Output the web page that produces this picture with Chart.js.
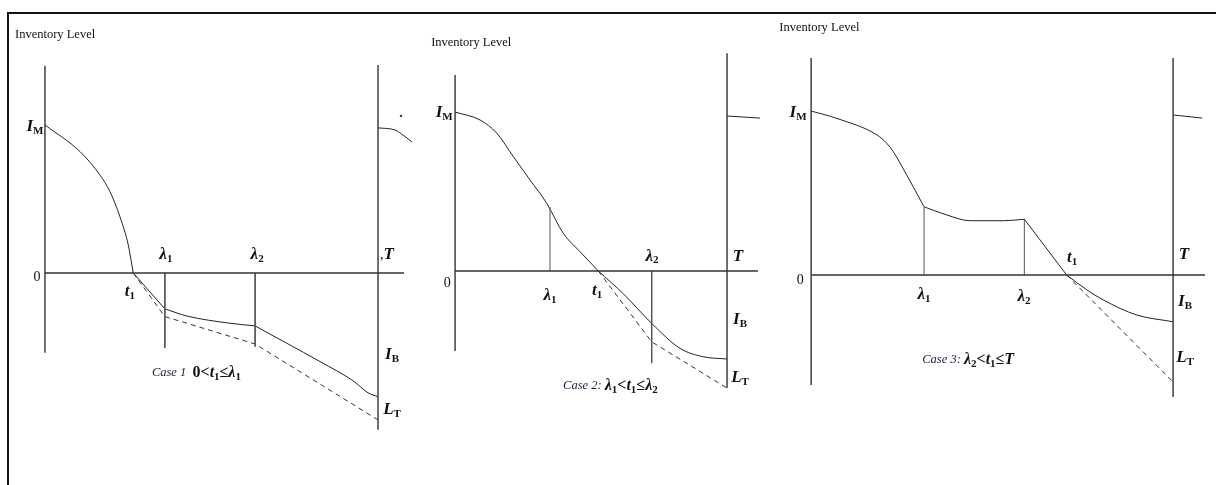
<!DOCTYPE html>
<html>
<head>
<meta charset="utf-8">
<script src="https://cdn.jsdelivr.net/npm/chart.js@4.4.0/dist/chart.umd.min.js"></script>
<style>
  body { margin:0; width:1216px; height:485px; background:#fff; overflow:hidden; position:relative; }
  .frame { position:absolute; left:7px; top:12px; width:1230px; height:490px; border-top:2px solid #111; border-left:2px solid #111; }
  canvas { position:absolute; }
</style>
</head>
<body>
<div class="frame"></div>
<canvas id="case1" width="405" height="460" style="left:10px;top:20px"></canvas>
<canvas id="case2" width="350" height="460" style="left:420px;top:20px"></canvas>
<canvas id="case3" width="434" height="460" style="left:780px;top:20px"></canvas>
<script>
// ── data (time, inventory level) ──
// Case 1 : 0 < t1 <= λ1
const case1StockT = [0, 1.05, 1.65, 1.95, 2.25, 2.5, 2.65];
const case1StockI = [10, 8.2, 6.62, 5.5, 3.8, 1.9, 0];
const case1ShortT = [2.65, 3.6, 4.26, 5.56, 6.31, 7.26, 8.26, 9.26, 9.7, 10];
const case1ShortI = [0, -2.43, -2.91, -3.4, -3.58, -4.75, -5.99, -7.3, -8.1, -8.36];
const case1ShortKinks = [1, 4];
const case1LostT = [2.65, 3.6, 6.31, 10];
const case1LostI = [0, -2.95, -4.8, -9.93];
const case1NextT = [10, 10.51, 10.78, 11.02];
const case1NextI = [9.8, 9.66, 9.26, 8.85];

// Case 2 : λ1 < t1 <= λ2
const case2StockT = [0, 0.92, 1.53, 2.14, 2.76, 3.37, 3.98, 4.6, 5.27];
const case2StockI = [10, 9.5, 8.68, 7.2, 5.72, 4.26, 2.37, 1.21, 0];
const case2ShortT = [5.27, 6.2, 7.23, 8.27, 9.13, 10];
const case2ShortI = [0, -1.45, -3.29, -4.86, -5.39, -5.53];
const case2LostT = [5.27, 7.23, 10];
const case2LostI = [0, -4.45, -7.36];
const case2NextT = [10, 11.21];
const case2NextI = [9.75, 9.62];

// Case 3 : λ2 < t1 <= T
const case3StockT = [0, 0.71, 1.82, 2.09, 2.27, 2.64, 3.12, 3.75, 4.39, 5.31, 5.89, 7.06];
const case3StockI = [10, 9.55, 8.54, 8.03, 7.52, 6.1, 4.16, 3.66, 3.31, 3.31, 3.4, 0];
const case3StockKinks = [6, 10];
const case3ShortT = [7.06, 7.62, 8.07, 9.0, 10];
const case3ShortI = [0, -0.91, -1.52, -2.44, -2.85];
const case3LostT = [7.06, 10];
const case3LostI = [0, -6.52];
const case3NextT = [10, 10.8];
const case3NextI = [9.76, 9.57];

// ── line helpers ──
const SMOOTH = { cubicInterpolationMode: 'monotone', tension: 0.4 };
const AXIS = { borderColor: '#333', borderWidth: 1.4 };
const GUIDE = { borderColor: '#555', borderWidth: 1 };
const DASH = { borderColor: '#333', borderWidth: 1, borderDash: [5, 4] };

function seg(xs, ys, opt) {
  return Object.assign({
    data: xs.map((x, i) => ({ x, y: ys[i] })),
    showLine: true, pointRadius: 0, pointHoverRadius: 0, borderColor: '#222', borderWidth: 1, fill: false
  }, opt || {});
}
function pieces(xs, ys, kinks, opt) {
  const cuts = [0, ...kinks, xs.length - 1], out = [];
  for (let i = 0; i < cuts.length - 1; i++) {
    out.push(seg(xs.slice(cuts[i], cuts[i + 1] + 1), ys.slice(cuts[i], cuts[i + 1] + 1), opt));
  }
  return out;
}
function vline(x, y0, y1, opt) { return seg([x, x], [y0, y1], opt); }

// ── labels ──
const F = {
  t: '12.5px "Liberation Serif"',
  r: '14px "Liberation Serif"',
  bi: 'italic bold 17px "Liberation Serif"',
  sub: 'bold 11px "Liberation Serif"',
  ci: 'italic 12.5px "Liberation Serif"',
  b: 'bold 16px "Liberation Serif"',
  bic: 'italic bold 16px "Liberation Serif"'
};
const IM = [['I', 'bi'], ['M', 'sub']];
const IB = [['I', 'bi'], ['B', 'sub']];
const LT = [['L', 'bi'], ['T', 'sub']];
const L1 = [['λ', 'bi'], ['1', 'sub']];
const L2 = [['λ', 'bi'], ['2', 'sub']];
const T1 = [['t', 'bi'], ['1', 'sub']];
const TITLE = [['Inventory Level', 't']];
const ZERO = [['0', 'r']];

const LABELS = {
  case1: [
    [-0.9, 16.08, TITLE, 'left'], [-0.3, 9.86, IM], [-0.24, -0.27, ZERO],
    [3.63, 1.22, L1], [6.37, 1.22, L2], [2.55, -1.28, T1],
    [10.27, 1.22, [[',', 'r'], ['T', 'bi']]], [10.42, -5.54, IB], [10.42, -9.26, LT],
    [3.21, -6.76, [['Case 1  ', 'ci'], ['0<', 'b'], ['t', 'bic'], ['1', 'sub'], ['≤', 'b'], ['λ', 'bic'], ['1', 'sub']], 'left']
  ],
  case2: [
    [-0.88, 14.34, TITLE, 'left'], [-0.4, 9.94, IM], [-0.29, -0.75, ZERO],
    [3.49, -1.57, L1], [5.22, -1.26, T1], [7.24, 0.94, L2],
    [10.4, 0.94, [['T', 'bi']]], [10.48, -3.08, IB], [10.48, -6.73, LT],
    [3.97, -7.23, [['Case 2: ', 'ci'], ['λ', 'bic'], ['1', 'sub'], ['<', 'b'], ['t', 'bic'], ['1', 'sub'], ['≤', 'b'], ['λ', 'bic'], ['2', 'sub']], 'left']
  ],
  case3: [
    [-0.88, 15.06, TITLE, 'left'], [-0.36, 9.88, IM], [-0.3, -0.3, ZERO],
    [3.12, -1.22, L1], [5.88, -1.34, L2], [7.21, 1.04, T1],
    [10.3, 1.22, [['T', 'bi']]], [10.33, -1.65, IB], [10.33, -5.06, LT],
    [3.07, -5.18, [['Case 3: ', 'ci'], ['λ', 'bic'], ['2', 'sub'], ['<', 'b'], ['t', 'bic'], ['1', 'sub'], ['≤', 'b'], ['T', 'bic']], 'left']
  ]
};

function drawRich(ctx, x, y, parts, align) {
  let total = 0;
  const widths = parts.map(([txt, f]) => { ctx.font = F[f]; const w = ctx.measureText(txt).width; total += w; return w; });
  let cx = align === 'left' ? x : x - total / 2;
  parts.forEach(([txt, f], i) => {
    ctx.font = F[f];
    ctx.fillStyle = f === 'ci' ? '#1c1c3c' : '#111';
    ctx.fillText(txt, cx, f === 'sub' ? y + 4 : y);
    cx += widths[i];
  });
}

const labelPlugin = {
  id: 'caseLabels',
  afterDatasetsDraw(chart) {
    const ctx = chart.ctx, sx = chart.scales.x, sy = chart.scales.y;
    ctx.save();
    ctx.textBaseline = 'middle';
    ctx.textAlign = 'left';
    (LABELS[chart.canvas.id] || []).forEach(([x, y, parts, align]) => {
      drawRich(ctx, sx.getPixelForValue(x), sy.getPixelForValue(y), parts, align || 'center');
    });
    ctx.restore();
  }
};

function makeChart(id, datasets, xr, yr) {
  return new Chart(document.getElementById(id), {
    type: 'scatter',
    data: { datasets },
    options: {
      responsive: false, animation: false, events: [], devicePixelRatio: 1,
      layout: { padding: 0, autoPadding: false },
      plugins: { legend: { display: false }, tooltip: { enabled: false } },
      scales: {
        x: { type: 'linear', display: false, min: xr[0], max: xr[1] },
        y: { type: 'linear', display: false, min: yr[0], max: yr[1] }
      }
    },
    plugins: [labelPlugin]
  });
}

// ── case 1 ──
makeChart('case1', [
  vline(0, 14, -5.4, AXIS), seg([0, 10.78], [0, 0], AXIS), vline(10, 14.05, -10.6, AXIS),
  vline(3.6, 0, -5.07, GUIDE), vline(6.31, 0, -4.98, GUIDE),
  seg(case1StockT, case1StockI, SMOOTH),
  ...pieces(case1ShortT, case1ShortI, case1ShortKinks, SMOOTH),
  seg(case1LostT, case1LostI, DASH),
  seg(case1NextT, case1NextI, SMOOTH),
  seg([10.69], [10.61], { showLine: false, pointRadius: 0.8, backgroundColor: '#333' })
], [-1.05, 11.11], [-13.99, 17.09]);

// ── case 2 ──
makeChart('case2', [
  vline(0, 12.33, -5.03, AXIS), seg([0, 11.14], [0, 0], AXIS), vline(10, 13.7, -7.36, AXIS),
  vline(3.49, 0, 4.03, GUIDE), vline(7.23, 0, -5.79, GUIDE),
  seg(case2StockT, case2StockI, SMOOTH),
  seg(case2ShortT, case2ShortI, SMOOTH),
  seg(case2LostT, case2LostI, DASH),
  seg(case2NextT, case2NextI)
], [-1.29, 11.58], [-13.14, 15.79]);

// ── case 3 ──
makeChart('case3', [
  vline(0, 13.23, -6.71, AXIS), seg([0, 10.88], [0, 0], AXIS), vline(10, 13.23, -7.44, AXIS),
  vline(3.12, 0, 4.16, GUIDE), vline(5.89, 0, 3.4, GUIDE),
  ...pieces(case3StockT, case3StockI, case3StockKinks, SMOOTH),
  seg(case3ShortT, case3ShortI, SMOOTH),
  seg(case3LostT, case3LostI, DASH),
  seg(case3NextT, case3NextI)
], [-0.86, 11.13], [-12.5, 15.55]);
</script>
</body>
</html>
